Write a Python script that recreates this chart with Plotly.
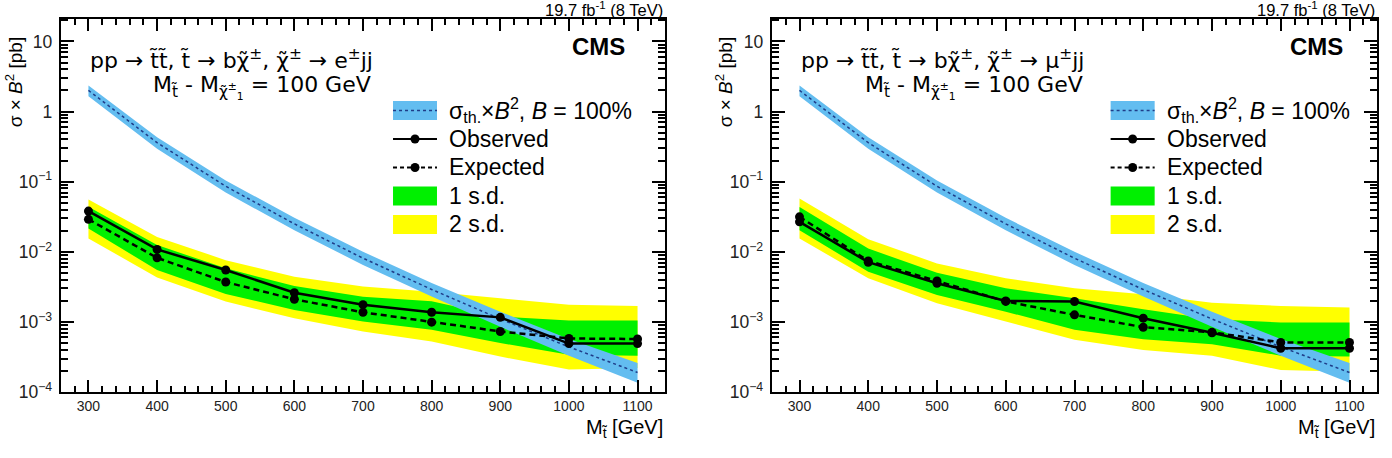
import plotly.graph_objects as go

# ---------------- data ----------------
mass = [300, 400, 500, 600, 700, 800, 900, 1000, 1100]

theory = [2.0, 0.36, 0.086, 0.025, 0.0081, 0.0029, 0.0011, 0.00044, 0.00019]
theory_up = [2.35, 0.43, 0.104, 0.0305, 0.0100, 0.0036, 0.00140, 0.00057, 0.00026]
theory_dn = [1.65, 0.295, 0.070, 0.0202, 0.0065, 0.0023, 0.00085, 0.00033, 0.000135]

# electron channel
obs_e = [0.038, 0.0108, 0.0055, 0.0026, 0.00176, 0.00137, 0.00116, 0.00049, 0.00049]
exp_e = [0.029, 0.0082, 0.0037, 0.0021, 0.00137, 0.00099, 0.00073, 0.00058, 0.00057]
g_hi_e = [0.0440, 0.0125, 0.0058, 0.00325, 0.00229, 0.00197, 0.00119, 0.00105, 0.00105]
g_lo_e = [0.0215, 0.0055, 0.0025, 0.00148, 0.00101, 0.00077, 0.00050, 0.00034, 0.00033]
y_hi_e = [0.0555, 0.0163, 0.0076, 0.00441, 0.00320, 0.0027, 0.00217, 0.00175, 0.00169]
y_lo_e = [0.0155, 0.0043, 0.00195, 0.00113, 0.00073, 0.000525, 0.00032, 0.00021, 0.00022]

# muon channel
obs_m = [0.0267, 0.0071, 0.00355, 0.00199, 0.00195, 0.00113, 0.00070, 0.00042, 0.00042]
exp_m = [0.0315, 0.0074, 0.00383, 0.00196, 0.00126, 0.00084, 0.00071, 0.00051, 0.00051]
g_hi_m = [0.0436, 0.0111, 0.00503, 0.00301, 0.00217, 0.00151, 0.00109, 0.00098, 0.00098]
g_lo_m = [0.0203, 0.0052, 0.00242, 0.0014, 0.00077, 0.000567, 0.00048, 0.00033, 0.00032]
y_hi_m = [0.0573, 0.0151, 0.00682, 0.00418, 0.00301, 0.00247, 0.00188, 0.00169, 0.00160]
y_lo_m = [0.0155, 0.00418, 0.00184, 0.00101, 0.000555, 0.000396, 0.000329, 0.000206, 0.000195]

process_e = "pp → t̃t̃, t̃ → bχ̃<sup>±</sup>, χ̃<sup>±</sup> → e<sup>±</sup>jj"
process_m = "pp → t̃t̃, t̃ → bχ̃<sup>±</sup>, χ̃<sup>±</sup> → μ<sup>±</sup>jj"
mass_text = "M<sub>t̃</sub> - M<sub>χ̃<sup>±</sup><sub>1</sub></sub> = 100 GeV"
lumi_text = "19.7 fb<sup>-1</sup> (8 TeV)"
legend_labels = ["σ<sub>th.</sub>×<i>B</i><sup>2</sup>, <i>B</i> = 100%",
                 "Observed", "Expected", "1 s.d.", "2 s.d."]

# ---------------- style ----------------
FONT = "Liberation Sans, Arial, sans-serif"
FONT_SYM = "DejaVu Sans"
YELLOW = "#ffff00"
GREEN = "#00f000"
BLUE = "#63bdf0"
DOT_BLUE = "#1f3c88"

fig = go.Figure()


def band(x, hi, lo, color, xa, ya):
    fig.add_trace(go.Scatter(
        x=list(x) + list(x)[::-1], y=list(hi) + list(lo)[::-1],
        fill="toself", fillcolor=color, mode="lines", line=dict(width=0),
        hoverinfo="skip", showlegend=False, xaxis=xa, yaxis=ya))


def panel(obs, exp, ghi, glo, yhi, ylo, xa, ya):
    band(mass, yhi, ylo, YELLOW, xa, ya)
    band(mass, ghi, glo, GREEN, xa, ya)
    band(mass, theory_up, theory_dn, BLUE, xa, ya)
    fig.add_trace(go.Scatter(x=mass, y=theory, mode="lines",
                             line=dict(color=DOT_BLUE, width=1.5, dash="dot"),
                             showlegend=False, xaxis=xa, yaxis=ya))
    fig.add_trace(go.Scatter(x=mass, y=exp, mode="lines+markers",
                             line=dict(color="black", width=2.5, dash="6px,4px"),
                             marker=dict(color="black", size=9),
                             showlegend=False, xaxis=xa, yaxis=ya))
    fig.add_trace(go.Scatter(x=mass, y=obs, mode="lines+markers",
                             line=dict(color="black", width=2.5),
                             marker=dict(color="black", size=9),
                             showlegend=False, xaxis=xa, yaxis=ya))


panel(obs_e, exp_e, g_hi_e, g_lo_e, y_hi_e, y_lo_e, "x", "y")
panel(obs_m, exp_m, g_hi_m, g_lo_m, y_hi_m, y_lo_m, "x2", "y2")

W, H = 1392, 458
dom_l = [61 / W, 665 / W]
dom_r = [772 / W, 1377 / W]

xax = dict(range=[260, 1140], dtick=100, tick0=0, ticks="inside", ticklen=12,
           tickwidth=1.5, tickcolor="black",
           minor=dict(dtick=20, ticks="inside", ticklen=6, tickwidth=1.5, tickcolor="black"),
           showline=True, linewidth=2, linecolor="black", mirror="ticks",
           showgrid=False, zeroline=False,
           tickfont=dict(family=FONT, size=14, color="#222"), ticklabelstandoff=0)
yax = dict(type="log", range=[-4, 1.32], dtick=1, exponentformat="power",
           ticks="inside", ticklen=13, tickwidth=1.5, tickcolor="black",
           minor=dict(dtick="D1", ticks="inside", ticklen=7, tickwidth=1.5, tickcolor="black"),
           showline=True, linewidth=2, linecolor="black", mirror="ticks",
           showgrid=False, zeroline=False,
           tickfont=dict(family=FONT, size=14, color="#222"), ticklabelstandoff=4)

fig.update_layout(
    width=W, height=H,
    margin=dict(l=0, r=0, t=19, b=66),
    paper_bgcolor="white", plot_bgcolor="white",
    showlegend=False,
    xaxis=dict(domain=dom_l, anchor="y", **xax),
    yaxis=dict(domain=[0, 1], anchor="x", **yax),
    xaxis2=dict(domain=dom_r, anchor="y2", **xax),
    yaxis2=dict(domain=[0, 1], anchor="x2", **yax),
)

# ---------------- text & legend ----------------
ann = []
shapes = []


def txt(text, x, y, xref, yref, size, xanchor="left", yanchor="middle", family=FONT, **kw):
    ann.append(dict(text=text, x=x, y=y, xref=xref, yref=yref, showarrow=False,
                    xanchor=xanchor, yanchor=yanchor,
                    font=dict(family=family, size=size, color="black"), **kw))


def decorate(xa, ya, process, ytitle_x, dx):
    xr, yr = xa + " domain", ya + " domain"
    txt(lumi_text, 1.0, 1.026, xr, yr, 16.5, xanchor="right")
    txt("<b>CMS</b>", 0.937 + dx, 0.925, xr, yr, 24, xanchor="right")
    txt(process, 0.0447, 0.893, xr, yr, 22, family=FONT_SYM)
    txt(mass_text, 0.5166, 0.817, xr, yr, 22, xanchor="right", family=FONT_SYM)
    txt("M<sub>t̃</sub> [GeV]", 1.0, -0.097, xr, yr, 20, xanchor="right")
    txt("σ × <i>B</i><sup>2</sup> [pb]", ytitle_x, 0.9563, "paper", "paper", 19,
        xanchor="center", yanchor="top", textangle=-90)
    # legend
    sx0, sx1 = 0.5497 + dx, 0.6225 + dx
    tx = 0.639 + dx
    rows = [0.7547, 0.6783, 0.6019, 0.5255, 0.4491]
    hh = 0.0255
    rx, ry = 4.5 / 604, 4.5 / 373
    shapes.append(dict(type="rect", xref=xr, yref=yr, x0=sx0, x1=sx1,
                       y0=rows[0] - hh, y1=rows[0] + hh, fillcolor=BLUE, line=dict(width=0)))
    shapes.append(dict(type="line", xref=xr, yref=yr, x0=sx0, x1=sx1,
                       y0=rows[0], y1=rows[0], line=dict(color=DOT_BLUE, width=1.5, dash="dot")))
    xm = (sx0 + sx1) / 2
    shapes.append(dict(type="line", xref=xr, yref=yr, x0=sx0, x1=sx1,
                       y0=rows[1], y1=rows[1], line=dict(color="black", width=2)))
    shapes.append(dict(type="circle", xref=xr, yref=yr, x0=xm - rx, x1=xm + rx,
                       y0=rows[1] - ry, y1=rows[1] + ry, fillcolor="black", line=dict(width=0)))
    shapes.append(dict(type="line", xref=xr, yref=yr, x0=sx0, x1=sx1,
                       y0=rows[2], y1=rows[2], line=dict(color="black", width=2, dash="4px,3px")))
    shapes.append(dict(type="circle", xref=xr, yref=yr, x0=xm - rx, x1=xm + rx,
                       y0=rows[2] - ry, y1=rows[2] + ry, fillcolor="black", line=dict(width=0)))
    shapes.append(dict(type="rect", xref=xr, yref=yr, x0=sx0, x1=sx1,
                       y0=rows[3] - hh, y1=rows[3] + hh, fillcolor=GREEN, line=dict(width=0)))
    shapes.append(dict(type="rect", xref=xr, yref=yr, x0=sx0, x1=sx1,
                       y0=rows[4] - hh, y1=rows[4] + hh, fillcolor=YELLOW, line=dict(width=0)))
    for lab, ry_ in zip(legend_labels, rows):
        txt(lab, tx, ry_, xr, yr, 23)


decorate("x", "y", process_e, 14 / W, 0.0)
decorate("x2", "y2", process_m, 724 / W, 0.01)

fig.update_layout(annotations=ann, shapes=shapes)
fig.write_html("out.html")
